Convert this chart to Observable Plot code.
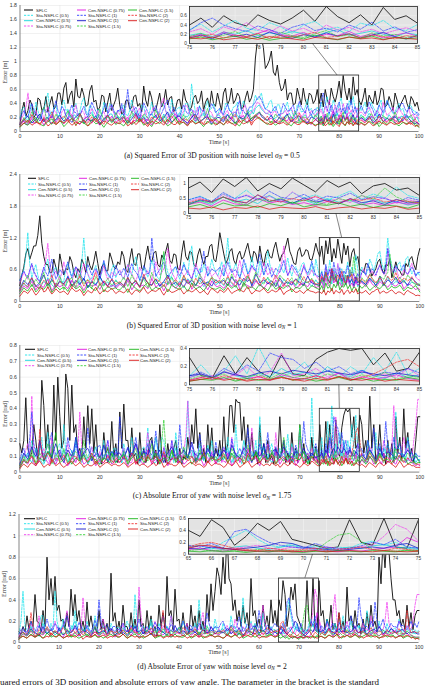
<!DOCTYPE html>
<html><head><meta charset="utf-8">
<script src="https://cdn.jsdelivr.net/npm/d3@7"></script>
<script src="https://cdn.jsdelivr.net/npm/@observablehq/plot@0.6"></script>
<style>
html,body{margin:0;padding:0;background:#fff}
#fig{position:relative;width:428px;height:685px;overflow:hidden;background:#fff}
#fig svg{position:absolute;overflow:visible}
</style></head><body><div id="fig"></div>
<script>
// ---------- labels ----------
const seriesNames = ["SFLC","Sta-NSFLC (0.5)","Cen-NSFLC (0.5)","Sta-NSFLC (0.75)","Cen-NSFLC (0.75)","Sta-NSFLC (1)","Cen-NSFLC (1)","Sta-NSFLC (1.5)","Cen-NSFLC (1.5)","Sta-NSFLC (2)","Cen-NSFLC (2)"];
const captionPrefix = ["(a) Squared Error of 3D position with noise level","(b) Squared Error of 3D position with noise level","(c) Absolute Error of yaw with noise level","(d) Absolute Error of yaw with noise level"];
const captionSigma = ["0.5","1","1.75","2"];
const yAxisLabels = ["Error [m]","Error [m]","Error [rad]","Error [rad]"];
const xAxisLabel = "Time [s]";
const figureCaption = "uared errors of 3D position and absolute errors of yaw angle. The parameter in the bracket is the standard";

// ---------- ticks ----------
const xTicksMain = [0,10,20,30,40,50,60,70,80,90,100];
const yTicksA = [0,0.2,0.4,0.6,0.8,1,1.2,1.4,1.6,1.8];
const yTicksB = [0,0.6,1.2,1.8,2.4];
const yTicksC = [0,0.1,0.2,0.3,0.4,0.5,0.6,0.7,0.8];
const yTicksD = [0,0.2,0.4,0.6,0.8,1,1.2];
const insetXTicksABC = [75,76,77,78,79,80,81,82,83,84,85];
const insetXTicksD = [65,66,67,68,69,70,71,72,73,74,75];
const insetYTicksA = [0,0.2,0.4,0.6];
const insetYTicksB = [0,0.5,1];
const insetYTicksC = [0,0.2,0.4];
const insetYTicksD = [0,0.2,0.4,0.6];
const zoomWindowA = [75,85,0,0.8];
const zoomWindowB = [75,85,0,1.2];
const zoomWindowC = [75,85,0,0.4];
const zoomWindowD = [65,75,0,0.6];
// connector: [time on inset bottom, time on zoom box top]
const connectorA = [80.4,79.6];
const connectorB = [81.4,80.6];
const connectorC = [81.5,80.0];
const connectorD = [70.4,71.6];

// sample times (s): 0, 0.5, ..., 100  (one row of 20 values = 10 s)
const sampleTimes = d3.range(0, 100.5, 0.5);

// ================= PANEL A : squared error, sigma 0.5 =================
const a_SFLC=[.10,.30,.42,.22,.30,.45,.38,.20,.25,.48,.45,.30,.33,.50,.28,.40,.50,.32,.36,.55,
.55,.38,.62,.70,.40,.52,.58,.35,.75,.50,.48,.62,.52,.36,.38,.58,.66,.42,.45,.30,
.35,.52,.50,.28,.42,.55,.30,.38,.46,.62,.38,.25,.28,.44,.45,.32,.34,.50,.52,.36,
.40,.28,.65,.45,.36,.58,.48,.30,.30,.42,.55,.35,.42,.60,.38,.48,.50,.28,.33,.45,
.46,.32,.60,.45,.40,.30,.35,.48,.52,.40,.44,.58,.30,.42,.48,.35,.58,.40,.36,.55,
.42,.30,.55,.62,.38,.45,.62,.40,.45,.55,.50,.32,.35,.48,.58,.42,.48,.60,1.05,1.30,
1.62,1.35,1.20,.90,.95,1.02,1.15,.85,.80,.95,.70,.58,.62,.75,.45,.55,.55,.38,.40,.62,
.50,.38,.62,.45,.38,.55,.52,.40,.45,.60,.40,.55,.35,.60,.45,.38,.62,.50,.42,.55,
.72,.48,.80,.58,.45,.62,.40,.78,.52,.60,.44,.38,.48,.62,.35,.52,.45,.40,.58,.38,
.45,.62,.60,.35,.38,.50,.42,.30,.55,.45,.33,.40,.46,.52,.40,.32,.50,.45,.36,.42,.30];
const a_Sta05=[.20,.32,.35,.18,.15,.40,.28,.22,.42,.30,.18,.25,.30,.45,.55,.28,.22,.35,.38,.20,
.25,.38,.45,.30,.32,.22,.20,.35,.40,.25,.28,.42,.48,.30,.24,.38,.35,.20,.18,.32,
.30,.22,.42,.35,.26,.40,.33,.28,.21,.30,.28,.35,.38,.25,.22,.30,.45,.32,.30,.24,
.25,.38,.36,.22,.20,.28,.42,.30,.31,.26,.27,.40,.38,.30,.24,.20,.46,.35,.29,.33,
.35,.25,.22,.40,.40,.28,.68,.45,.26,.30,.37,.22,.23,.35,.44,.30,.33,.40,.30,.22,
.32,.28,.25,.40,.40,.30,.28,.35,.36,.42,.22,.30,.44,.36,.30,.22,.26,.40,.52,.45,
.48,.55,.40,.32,.35,.42,.45,.30,.30,.38,.38,.25,.26,.35,.42,.30,.31,.22,.24,.38,
.37,.28,.29,.35,.46,.30,.33,.25,.27,.35,.30,.42,.25,.38,.50,.33,.28,.45,.36,.22,
.40,.48,.30,.35,.26,.44,.38,.50,.32,.28,.41,.30,.35,.42,.26,.30,.42,.35,.30,.22,
.38,.45,.24,.30,.45,.38,.31,.25,.28,.35,.40,.30,.33,.22,.25,.38,.37,.30,.29,.25,.22];
const a_Cen05=[.10,.15,.18,.12,.12,.20,.22,.16,.15,.22,.25,.18,.14,.20,.20,.26,.28,.18,.16,.22,
.24,.18,.19,.25,.30,.22,.17,.24,.22,.18,.26,.20,.15,.20,.21,.25,.27,.20,.18,.24,
.23,.17,.14,.20,.20,.25,.25,.18,.16,.22,.19,.25,.24,.16,.13,.20,.21,.26,.28,.22,
.17,.21,.22,.18,.15,.22,.26,.20,.20,.26,.18,.14,.25,.22,.14,.19,.23,.27,.19,.23,
.27,.20,.16,.22,.21,.26,.24,.18,.13,.20,.20,.24,.26,.20,.17,.22,.22,.19,.18,.24,
.23,.19,.16,.22,.25,.20,.19,.26,.28,.22,.21,.18,.15,.20,.24,.29,.30,.25,.33,.36,
.38,.32,.29,.26,.26,.24,.22,.18,.19,.22,.25,.20,.17,.22,.23,.26,.20,.18,.26,.22,
.15,.20,.22,.24,.18,.22,.24,.20,.21,.26,.18,.22,.15,.25,.20,.28,.17,.23,.19,.26,
.21,.16,.24,.30,.18,.22,.27,.20,.15,.23,.19,.24,.20,.17,.21,.26,.22,.15,.19,.22,
.19,.25,.22,.18,.18,.24,.20,.16,.23,.20,.16,.22,.21,.25,.19,.22,.20,.16,.18,.21,.14];
const a_Sta075=[.12,.20,.25,.35,.55,.28,.18,.24,.30,.20,.22,.30,.15,.28,.35,.22,.20,.30,.28,.18,
.16,.28,.32,.22,.24,.30,.19,.28,.38,.25,.21,.30,.27,.18,.14,.24,.33,.28,.22,.30,
.18,.24,.29,.20,.25,.36,.36,.26,.20,.30,.24,.33,.31,.20,.17,.24,.26,.36,.20,.28,
.34,.22,.23,.30,.15,.22,.28,.35,.21,.26,.30,.40,.48,.30,.19,.24,.25,.30,.22,.18,
.16,.24,.29,.38,.35,.26,.20,.30,.26,.35,.18,.25,.32,.28,.23,.30,.27,.20,.19,.25,
.25,.30,.21,.26,.30,.22,.18,.28,.27,.32,.24,.20,.33,.38,.20,.24,.28,.30,.36,.42,
.40,.35,.31,.26,.25,.30,.22,.28,.29,.22,.19,.26,.26,.30,.23,.30,.34,.25,.20,.26,
.27,.22,.24,.30,.18,.22,.30,.26,.22,.28,.25,.32,.20,.36,.28,.45,.30,.24,.38,.27,
.33,.22,.40,.29,.35,.25,.31,.21,.28,.34,.26,.28,.25,.22,.30,.35,.28,.19,.24,.30,
.26,.22,.42,.30,.23,.26,.29,.35,.20,.26,.33,.28,.24,.20,.27,.32,.21,.25,.18,.24,.18];
const a_Cen075=[.08,.12,.15,.10,.10,.16,.18,.12,.12,.18,.20,.14,.09,.14,.16,.20,.22,.16,.13,.18,
.19,.14,.11,.16,.17,.22,.24,.18,.14,.12,.10,.15,.18,.20,.21,.16,.12,.18,.16,.12,
.09,.15,.19,.20,.14,.18,.22,.16,.11,.16,.17,.21,.13,.18,.20,.15,.10,.16,.15,.22,
.23,.18,.12,.16,.18,.14,.09,.14,.16,.20,.21,.18,.14,.11,.11,.16,.19,.23,.25,.20,
.13,.16,.17,.14,.10,.16,.20,.24,.15,.18,.12,.15,.18,.22,.22,.16,.14,.18,.16,.12,
.12,.16,.19,.22,.15,.18,.21,.16,.10,.14,.17,.20,.23,.16,.13,.18,.18,.22,.20,.24,
.26,.24,.22,.18,.16,.18,.19,.16,.14,.12,.11,.15,.18,.16,.15,.20,.21,.16,.12,.15,
.17,.21,.20,.16,.14,.12,.10,.14,.16,.20,.15,.20,.12,.25,.18,.14,.22,.30,.19,.16,
.24,.13,.20,.17,.26,.15,.21,.12,.18,.23,.16,.19,.15,.13,.18,.17,.22,.20,.16,.11,
.16,.20,.20,.16,.14,.18,.18,.22,.12,.16,.21,.18,.15,.20,.17,.14,.13,.16,.15,.12,.10];
const a_Sta1=[.18,.25,.30,.22,.22,.30,.40,.30,.26,.20,.15,.25,.35,.28,.28,.20,.20,.32,.44,.30,
.25,.36,.32,.22,.19,.30,.38,.28,.27,.22,.23,.30,.36,.26,.21,.32,.42,.35,.29,.24,
.17,.25,.33,.40,.26,.30,.39,.30,.24,.30,.30,.40,.22,.35,.60,.35,.27,.30,.35,.28,
.19,.30,.41,.35,.28,.24,.24,.30,.37,.28,.20,.26,.33,.40,.45,.30,.26,.35,.30,.22,
.22,.30,.38,.30,.25,.28,.32,.26,.18,.25,.36,.30,.29,.24,.23,.32,.40,.35,.27,.30,
.33,.26,.24,.32,.39,.30,.28,.22,.21,.35,.44,.30,.30,.25,.26,.35,.35,.38,.42,.48,
.50,.45,.38,.32,.31,.28,.27,.32,.36,.28,.22,.30,.40,.35,.29,.30,.34,.38,.25,.30,
.43,.35,.30,.26,.37,.28,.23,.30,.32,.30,.28,.45,.55,.40,.32,.26,.38,.30,.22,.35,
.42,.28,.33,.25,.40,.31,.46,.27,.36,.24,.30,.37,.30,.25,.32,.42,.36,.30,.22,.30,
.38,.32,.27,.35,.44,.36,.31,.28,.26,.30,.35,.40,.40,.32,.28,.35,.33,.26,.24,.28,.24];
const a_Cen1=[.10,.14,.16,.20,.22,.16,.12,.15,.18,.22,.25,.18,.14,.17,.20,.14,.11,.15,.17,.20,
.23,.18,.15,.17,.19,.16,.13,.18,.21,.24,.26,.20,.12,.15,.18,.16,.15,.20,.22,.18,
.10,.14,.17,.20,.24,.18,.14,.16,.19,.20,.16,.18,.21,.16,.12,.15,.18,.22,.26,.20,
.14,.17,.20,.16,.11,.14,.17,.20,.23,.18,.15,.17,.19,.24,.28,.20,.13,.16,.18,.22,
.22,.18,.16,.14,.12,.16,.20,.23,.25,.18,.14,.16,.18,.20,.21,.16,.11,.14,.17,.20,
.20,.16,.14,.19,.24,.20,.17,.14,.12,.16,.21,.19,.18,.22,.26,.20,.15,.18,.22,.25,
.28,.22,.19,.17,.16,.20,.23,.18,.13,.16,.20,.18,.17,.22,.25,.18,.14,.17,.19,.22,
.22,.18,.16,.14,.12,.16,.21,.19,.18,.15,.12,.18,.10,.22,.15,.20,.13,.25,.17,.11,
.19,.14,.23,.16,.21,.12,.18,.24,.15,.10,.17,.20,.18,.15,.18,.22,.17,.12,.15,.18,
.25,.20,.14,.16,.19,.17,.16,.20,.21,.18,.13,.15,.17,.20,.23,.18,.15,.13,.11,.13,.11];
const a_Sta15=[.08,.14,.20,.15,.14,.22,.28,.18,.12,.16,.22,.30,.35,.22,.16,.12,.10,.18,.25,.20,
.18,.14,.13,.20,.30,.24,.21,.16,.15,.20,.26,.18,.11,.14,.19,.22,.24,.20,.14,.20,
.32,.24,.17,.20,.22,.16,.12,.18,.27,.22,.16,.20,.23,.16,.10,.18,.29,.22,.18,.14,
.14,.18,.25,.22,.20,.16,.12,.20,.31,.25,.17,.20,.22,.18,.13,.18,.26,.22,.19,.14,
.11,.18,.24,.20,.16,.20,.28,.24,.21,.16,.14,.16,.18,.24,.33,.22,.15,.18,.20,.16,
.13,.18,.22,.20,.17,.22,.26,.20,.11,.15,.20,.18,.15,.22,.30,.24,.18,.21,.24,.26,
.28,.24,.21,.18,.16,.14,.12,.18,.25,.22,.19,.16,.14,.18,.23,.20,.17,.22,.29,.22,
.13,.16,.21,.20,.18,.14,.11,.18,.24,.20,.15,.22,.12,.18,.26,.14,.20,.10,.24,.17,
.13,.21,.28,.15,.19,.12,.23,.16,.20,.13,.18,.20,.22,.16,.14,.20,.26,.22,.17,.14,
.11,.16,.23,.20,.19,.16,.15,.20,.28,.20,.13,.16,.20,.18,.16,.20,.24,.18,.12,.10,.09];
const a_Cen15=[.06,.09,.12,.10,.09,.12,.15,.18,.20,.14,.11,.09,.08,.12,.14,.16,.18,.14,.10,.12,
.16,.12,.07,.10,.13,.16,.19,.14,.09,.12,.15,.13,.12,.10,.08,.12,.17,.14,.11,.12,
.14,.10,.06,.10,.13,.16,.18,.14,.10,.12,.12,.10,.08,.12,.16,.13,.10,.12,.14,.16,
.19,.14,.09,.11,.13,.10,.07,.12,.15,.13,.11,.14,.17,.12,.08,.10,.12,.16,.20,.14,
.10,.12,.14,.11,.09,.12,.16,.14,.11,.13,.13,.10,.07,.11,.15,.12,.10,.12,.12,.10,
.14,.12,.09,.13,.17,.14,.11,.12,.13,.10,.08,.12,.16,.14,.12,.15,.19,.20,.22,.20,
.18,.16,.14,.12,.10,.12,.15,.12,.09,.11,.13,.14,.17,.14,.11,.10,.08,.12,.14,.13,
.12,.14,.16,.14,.10,.12,.13,.11,.09,.10,.10,.14,.08,.12,.16,.09,.13,.07,.11,.15,
.10,.18,.12,.08,.14,.11,.16,.09,.13,.10,.12,.13,.11,.09,.12,.15,.13,.11,.09,.12,
.07,.10,.14,.12,.10,.13,.17,.14,.12,.10,.08,.11,.13,.12,.11,.13,.15,.12,.09,.08,.06];
const a_Sta2=[.10,.14,.18,.14,.12,.18,.24,.19,.15,.12,.09,.14,.20,.17,.14,.18,.28,.20,.11,.14,
.17,.20,.22,.18,.13,.16,.19,.14,.08,.15,.25,.20,.16,.14,.12,.16,.21,.18,.14,.16,
.18,.14,.10,.16,.23,.19,.15,.17,.19,.18,.13,.16,.20,.17,.16,.12,.11,.18,.24,.18,
.14,.16,.18,.13,.09,.15,.21,.18,.15,.20,.26,.18,.12,.15,.17,.20,.22,.18,.14,.12,
.10,.15,.19,.17,.16,.14,.13,.18,.23,.20,.18,.14,.11,.16,.20,.18,.15,.16,.17,.15,
.14,.18,.21,.16,.11,.14,.18,.22,.25,.18,.13,.15,.16,.18,.20,.16,.12,.18,.24,.22,
.19,.17,.15,.18,.22,.16,.10,.14,.17,.15,.14,.18,.21,.16,.12,.15,.18,.17,.16,.20,
.26,.18,.13,.16,.19,.15,.11,.14,.17,.15,.13,.16,.20,.12,.18,.15,.22,.11,.17,.14,
.19,.24,.13,.16,.21,.12,.18,.15,.10,.17,.14,.16,.14,.12,.16,.20,.18,.14,.11,.16,
.22,.18,.15,.14,.13,.16,.19,.17,.16,.14,.12,.16,.21,.18,.14,.12,.10,.14,.18,.14,.10];
const a_Cen2=[.07,.10,.12,.14,.16,.12,.09,.11,.14,.12,.11,.15,.18,.12,.08,.10,.13,.12,.10,.12,
.15,.14,.12,.14,.17,.12,.09,.11,.14,.12,.11,.14,.16,.12,.08,.10,.13,.16,.19,.14,
.10,.12,.15,.14,.12,.10,.09,.12,.14,.12,.11,.14,.16,.12,.08,.10,.13,.14,.10,.12,
.18,.14,.12,.10,.07,.11,.15,.13,.11,.12,.14,.12,.09,.13,.17,.14,.12,.10,.10,.14,
.15,.13,.13,.10,.08,.12,.16,.13,.11,.12,.14,.12,.10,.11,.12,.15,.18,.13,.09,.11,
.13,.12,.10,.12,.15,.13,.12,.10,.08,.12,.16,.13,.11,.12,.14,.16,.09,.14,.17,.19,
.20,.17,.15,.12,.12,.10,.10,.12,.14,.12,.11,.12,.13,.11,.09,.12,.16,.13,.12,.10,
.10,.12,.15,.12,.11,.12,.13,.10,.08,.10,.12,.10,.14,.08,.11,.13,.09,.15,.12,.10,
.07,.13,.11,.09,.14,.10,.12,.08,.13,.11,.09,.12,.10,.09,.12,.14,.11,.08,.10,.13,
.15,.12,.12,.10,.09,.12,.13,.11,.10,.12,.11,.14,.14,.11,.10,.12,.12,.10,.07,.09,.07];

// ================= PANEL B : squared error, sigma 1 =================
const b_SFLC=[.30,.50,.65,.90,1.00,.80,.92,1.05,1.05,1.25,1.62,1.10,.85,.70,.70,.55,.55,.80,.65,.50,
.90,.70,.50,.62,.60,.85,.75,.55,.45,.62,.55,.80,.70,.55,.85,.68,.60,.75,.95,.72,
.50,.66,.72,.58,.58,.92,.80,.65,.62,.75,.70,.95,.85,.60,.55,.80,1.00,.72,.68,.90,
.90,.62,.60,.85,1.05,.80,.75,.92,.95,.70,.65,.88,.80,.95,1.10,.78,.72,.90,.88,.62,
.60,.92,1.15,.85,.78,.95,.92,.70,.66,.88,1.00,.82,.70,.85,.85,1.05,1.08,.80,.75,.98,
1.30,1.10,.90,.72,.80,.95,1.00,.78,.70,.88,.95,.80,.85,.98,1.10,.90,.75,.95,.90,.72,
1.05,.82,.68,.90,.98,.85,.82,1.00,1.12,.92,.76,.88,.92,1.05,1.20,.95,.85,.72,.70,.95,
1.02,.85,.88,.98,.96,.80,.78,.92,1.10,.95,.85,1.05,.70,1.15,.90,1.20,.75,1.00,.82,1.18,
.95,.72,1.10,.88,1.05,.66,.92,1.00,.78,.85,.60,.58,.55,.72,.70,.62,.48,.55,.62,.75,
.80,.62,.52,.70,.68,.80,.45,.58,.75,.62,.58,.50,.50,.72,.66,.80,.85,.70,.60,.85,1.00];
const b_Sta05=[.40,.52,.60,.85,1.30,.70,.45,.58,.70,.50,.35,.48,.55,.68,.80,.55,.42,.60,.65,.48,
.50,.38,.38,.62,.72,.55,.48,.62,.60,.42,.36,.75,1.20,.70,.52,.40,.44,.58,.68,.52,
.40,.55,.75,.60,.50,.45,.62,.70,.45,.55,.58,.48,.42,.60,.70,.55,.50,.72,.85,.62,
.38,.50,.64,.55,.46,.60,.78,.65,.52,.45,.40,.62,.90,.70,.55,.45,.48,.60,.66,.50,
.42,.58,.74,.62,.50,.85,1.05,.70,.45,.52,.62,.55,.70,.60,.48,.62,.80,.65,.55,.48,
.62,.75,.48,.80,1.20,.70,.55,.62,.72,.58,.45,.56,.68,.72,.52,.60,.85,.66,.60,.50,
.76,.62,.50,.72,.95,.70,.58,.52,.46,.58,.70,.62,.54,.68,.82,.60,.48,.62,.66,.55,
.58,.70,.74,.60,.50,.55,.72,.48,.80,.62,.45,.58,.40,.65,.50,.78,.48,.60,.38,.70,
.52,.62,.45,.58,.75,.48,.65,.52,.88,.60,.50,.65,.55,.50,.60,.80,.70,.58,.72,.90,
.95,.72,.60,.78,1.20,.85,.68,.62,.55,.70,.75,.58,.62,.80,.85,.65,.52,.60,.48,.55,.48];
const b_Cen05=[.20,.28,.35,.30,.28,.36,.42,.35,.30,.26,.25,.32,.38,.34,.45,.38,.32,.28,.27,.34,
.40,.36,.34,.30,.48,.40,.29,.33,.36,.40,.31,.38,.44,.35,.26,.32,.39,.36,.33,.38,
.47,.40,.30,.34,.37,.32,.28,.34,.41,.36,.34,.30,.27,.36,.45,.38,.32,.35,.38,.32,
.29,.38,.50,.40,.35,.32,.31,.36,.42,.35,.28,.33,.37,.34,.33,.42,.46,.36,.30,.34,
.39,.32,.26,.35,.43,.38,.35,.31,.31,.36,.40,.34,.28,.32,.36,.40,.44,.36,.32,.34,
.38,.34,.30,.38,.45,.38,.34,.30,.27,.34,.41,.38,.36,.40,.48,.40,.32,.36,.40,.35,
.29,.33,.37,.40,.44,.36,.31,.34,.35,.30,.28,.35,.42,.38,.33,.36,.39,.34,.30,.35,
.46,.38,.34,.36,.37,.32,.29,.34,.41,.35,.35,.42,.30,.55,.38,.48,.33,.60,.40,.36,
.45,.32,.50,.38,.43,.30,.47,.35,.40,.28,.36,.39,.34,.32,.40,.44,.38,.36,.30,.35,
.42,.38,.35,.40,.47,.38,.31,.34,.38,.36,.34,.38,.41,.35,.29,.33,.37,.35,.33,.30,.33];
const b_Sta075=[.35,.45,.55,.48,.42,.58,.70,.55,.48,.40,.38,.50,.62,.80,1.10,.70,.45,.52,.58,.48,
.40,.55,.75,.60,.50,.42,.36,.50,.65,.55,.44,.58,.72,.60,.52,.45,.39,.48,.60,.52,
.46,.55,.68,.52,.41,.48,.55,.50,.49,.55,.60,.48,.43,.55,.70,.60,.52,.45,.38,.50,
.65,.55,.47,.52,.58,.50,.42,.55,.75,.62,.50,.55,.62,.70,1.00,.72,.55,.48,.40,.52,
.68,.55,.48,.52,.60,.50,.44,.58,.72,.60,.51,.45,.39,.52,.66,.55,.47,.52,.55,.48,
.42,.55,.70,.58,.48,.55,.62,.50,.45,.62,.78,.60,.52,.45,.40,.55,.68,.60,.56,.50,
.46,.58,.74,.60,.50,.55,.64,.52,.43,.50,.58,.75,1.05,.70,.49,.58,.66,.58,.52,.48,
.44,.55,.70,.55,.47,.52,.60,.52,.50,.44,.40,.52,.36,.64,.44,.62,.48,.58,.38,.72,
.46,.55,.40,.50,.36,.60,.42,.53,.34,.46,.38,.55,.62,.50,.45,.52,.58,.50,.48,.62,
.70,.58,.52,.48,1.00,.70,.55,.60,.65,.52,.42,.50,.60,.55,.50,.62,.72,.58,.46,.42,.40];
const b_Cen075=[.18,.24,.30,.26,.25,.32,.38,.30,.22,.28,.33,.28,.27,.35,.42,.32,.20,.26,.35,.30,
.28,.30,.31,.28,.24,.32,.40,.34,.26,.30,.34,.28,.21,.28,.37,.34,.29,.30,.32,.28,
.23,.30,.39,.34,.27,.28,.30,.30,.25,.28,.33,.30,.26,.32,.40,.32,.22,.28,.35,.32,
.29,.30,.31,.28,.24,.32,.43,.36,.27,.30,.34,.28,.20,.28,.38,.34,.30,.28,.25,.30,
.36,.32,.28,.34,.41,.34,.23,.28,.32,.30,.27,.30,.35,.28,.22,.30,.39,.34,.29,.28,
.31,.28,.25,.30,.37,.32,.28,.32,.42,.35,.23,.28,.34,.32,.30,.28,.26,.32,.39,.34,
.32,.30,.24,.30,.36,.32,.29,.32,.41,.34,.22,.28,.33,.30,.27,.32,.38,.32,.25,.28,
.31,.33,.35,.30,.28,.34,.40,.34,.26,.28,.30,.38,.25,.45,.32,.28,.50,.35,.42,.30,
.36,.27,.40,.33,.48,.29,.35,.26,.38,.31,.34,.36,.32,.28,.34,.41,.34,.30,.26,.32,
.38,.34,.32,.30,.27,.32,.35,.30,.29,.32,.40,.34,.24,.28,.33,.32,.30,.26,.22,.26,.22];
const b_Sta1=[.40,.50,.58,.50,.45,.60,.72,.58,.50,.42,.38,.52,.65,.55,.48,.62,.80,.60,.42,.50,
.60,.55,.52,.62,.75,.60,.44,.55,.66,.60,.55,.46,.40,.55,.70,.60,.50,.58,.62,.55,
.46,.60,.78,.62,.53,.48,.41,.55,.68,.58,.50,.55,.63,.55,.45,.60,.72,.60,.56,.50,
.40,.52,.68,.60,.52,.55,1.20,.80,.47,.55,.60,.70,.74,.55,.43,.52,.58,.62,.66,.55,
.49,.58,.70,.60,.55,.48,.42,.55,.64,.58,.51,.70,.95,.66,.48,.55,.62,.58,.57,.60,
.65,.55,.48,.62,.75,.62,.55,.58,.60,.52,.44,.60,.80,.65,.52,.58,.68,.62,.58,.75,
.90,.68,.50,.60,.72,.58,.46,.55,.63,.58,.55,.65,.78,.60,.49,.58,.70,.65,.60,.52,
.45,.55,.66,.58,.53,.62,.76,.60,.50,.48,.46,.56,.40,.70,.50,.60,.44,.74,.54,.48,
.64,.42,.58,.52,.68,.46,.56,.50,.38,.53,.44,.55,.58,.50,.72,.55,.62,.58,.50,.60,
.68,.60,.52,.60,1.00,.72,.60,.55,.68,.60,.58,.62,.70,.55,.52,.58,.65,.60,.48,.55,.55];
const b_Cen1=[.25,.32,.40,.36,.32,.38,.45,.36,.28,.32,.36,.42,.50,.40,.30,.35,.42,.36,.27,.32,
.38,.35,.34,.40,.47,.38,.29,.34,.40,.36,.33,.38,.44,.36,.26,.32,.37,.34,.31,.38,
.48,.40,.35,.33,.30,.36,.41,.35,.28,.32,.36,.34,.30,.38,.44,.38,.33,.36,.39,.33,
.27,.36,.46,.40,.35,.32,.31,.38,.42,.35,.29,.34,.38,.44,.50,.40,.32,.34,.36,.32,
.28,.36,.43,.38,.34,.36,.40,.36,.30,.38,.45,.40,.33,.35,.37,.33,.29,.36,.41,.38,
.34,.38,.40,.35,.30,.38,.47,.40,.36,.34,.31,.38,.44,.40,.38,.42,.29,.40,.52,.45,
.35,.38,.41,.38,.33,.36,.39,.34,.28,.36,.45,.38,.34,.35,.37,.34,.31,.38,.43,.38,
.36,.33,.30,.40,.48,.40,.35,.34,.32,.32,.30,.45,.38,.55,.42,.35,.62,.40,.48,.33,
.52,.38,.45,.32,.50,.36,.42,.30,.47,.35,.40,.38,.35,.32,.38,.44,.40,.36,.30,.38,
.48,.40,.30,.36,.41,.38,.35,.40,.46,.38,.33,.36,.39,.34,.31,.38,.45,.40,.37,.32,.30];
const b_Sta15=[.20,.30,.35,.42,.50,.38,.28,.35,.42,.36,.32,.45,.55,.40,.25,.32,.40,.35,.30,.40,
.48,.35,.22,.30,.38,.42,.45,.35,.27,.40,.52,.42,.33,.38,.41,.35,.24,.36,.47,.40,
.36,.32,.29,.38,.44,.36,.31,.35,.39,.35,.34,.40,.46,.38,.28,.38,.50,.42,.37,.34,
.30,.36,.42,.35,.26,.40,.55,.45,.33,.36,.40,.60,.95,.55,.31,.38,.45,.40,.38,.32,
.27,.38,.49,.40,.35,.38,.43,.36,.29,.40,.52,.42,.36,.34,.32,.40,.47,.42,.40,.36,
.37,.40,.44,.36,.30,.42,.52,.42,.36,.38,.41,.36,.28,.38,.48,.40,.35,.45,.56,.45,
.40,.36,.33,.40,.46,.40,.38,.34,.30,.40,.50,.45,.42,.38,.34,.40,.45,.36,.31,.42,
.53,.45,.39,.36,.36,.40,.44,.38,.32,.30,.30,.42,.35,.55,.38,.28,.48,.40,.52,.33,
.45,.38,.30,.50,.42,.60,.48,.85,.55,.40,.35,.45,.40,.38,.45,.52,.45,.40,.36,.35,
.48,.45,.42,.50,.55,.90,.60,.45,.40,.42,.46,.40,.36,.42,.50,.45,.38,.34,.32,.34,.32];
const b_Cen15=[.15,.20,.26,.22,.20,.26,.32,.26,.18,.22,.28,.25,.23,.28,.35,.28,.17,.22,.30,.26,
.22,.25,.27,.24,.19,.26,.33,.28,.24,.26,.29,.24,.16,.22,.31,.28,.25,.22,.21,.26,
.34,.28,.18,.24,.28,.26,.23,.25,.26,.22,.22,.26,.30,.24,.17,.24,.34,.28,.25,.22,
.20,.24,.29,.32,.36,.28,.21,.24,.27,.25,.24,.28,.31,.26,.18,.24,.33,.28,.26,.24,
.22,.26,.30,.24,.19,.26,.35,.28,.24,.26,.28,.24,.20,.26,.32,.28,.25,.24,.23,.25,
.27,.24,.21,.26,.33,.28,.25,.28,.30,.24,.19,.26,.36,.30,.24,.26,.28,.25,.22,.28,
.32,.28,.26,.24,.20,.26,.34,.28,.23,.26,.29,.26,.25,.28,.31,.28,.18,.22,.27,.26,
.24,.28,.33,.28,.21,.26,.30,.28,.26,.24,.22,.30,.18,.35,.25,.28,.20,.33,.26,.38,
.22,.30,.27,.35,.24,.31,.20,.28,.25,.18,.30,.25,.28,.32,.26,.21,.24,.28,.30,.26,
.24,.28,.35,.28,.22,.26,.29,.26,.26,.28,.31,.26,.20,.24,.27,.25,.24,.28,.30,.24,.18];
const b_Sta2=[.22,.30,.35,.30,.28,.38,.45,.36,.30,.26,.25,.34,.40,.36,.33,.42,.50,.38,.27,.34,
.38,.35,.31,.38,.44,.36,.26,.32,.36,.42,.48,.38,.29,.35,.41,.38,.34,.45,.55,.42,
.30,.35,.39,.34,.27,.35,.43,.38,.32,.36,.37,.33,.29,.38,.46,.38,.33,.36,.40,.32,
.26,.40,.52,.42,.35,.32,.30,.38,.43,.40,.38,.34,.28,.38,.47,.40,.34,.38,.41,.36,
.31,.40,.49,.42,.36,.32,.27,.36,.44,.38,.33,.36,.39,.34,.30,.38,.45,.40,.35,.38,
.40,.36,.32,.40,.48,.40,.36,.32,.29,.38,.45,.42,.38,.45,.51,.42,.34,.40,.42,.36,
.30,.38,.46,.40,.37,.34,.33,.42,.50,.42,.39,.36,.28,.38,.44,.38,.35,.38,.41,.36,
.31,.40,.47,.40,.36,.38,.42,.36,.33,.34,.35,.48,.40,.55,.42,.36,.62,.45,.38,.50,
.42,.58,.40,.35,.48,.44,.52,.38,.45,.40,.36,.42,.38,.35,.42,.50,.44,.38,.36,.40,
.45,.40,.33,.40,.48,.42,.40,.45,.55,.45,.36,.40,.44,.42,.39,.42,.47,.40,.34,.32,.30];
const b_Cen2=[.10,.15,.20,.18,.15,.20,.25,.18,.12,.16,.22,.26,.18,.20,.28,.20,.14,.18,.24,.20,
.17,.18,.20,.16,.13,.20,.26,.22,.19,.20,.23,.18,.11,.16,.21,.18,.16,.22,.27,.20,
.14,.18,.22,.20,.18,.22,.25,.20,.15,.18,.20,.18,.16,.20,.24,.18,.13,.18,.22,.20,
.17,.22,.27,.20,.15,.18,.21,.20,.19,.22,.25,.18,.12,.18,.23,.20,.17,.18,.20,.22,
.26,.20,.14,.18,.22,.20,.18,.20,.24,.20,.16,.18,.21,.16,.13,.20,.25,.22,.19,.16,
.22,.20,.17,.20,.26,.20,.15,.18,.20,.22,.23,.20,.18,.24,.28,.20,.14,.18,.21,.20,
.19,.22,.25,.20,.16,.18,.22,.20,.18,.20,.27,.20,.13,.18,.20,.22,.24,.20,.17,.18,
.21,.18,.15,.20,.23,.20,.19,.18,.16,.18,.18,.15,.22,.12,.20,.17,.25,.14,.21,.18,
.16,.23,.13,.19,.22,.15,.20,.17,.24,.14,.18,.16,.18,.21,.16,.13,.18,.19,.22,.24,
.15,.18,.20,.16,.17,.20,.22,.18,.14,.18,.18,.16,.12,.18,.21,.18,.16,.14,.11,.12,.11];

// ================= PANEL C : absolute yaw error, sigma 1.75 =================
const c_SFLC=[.18,.12,.20,.47,.15,.10,.12,.30,.20,.08,.15,.58,.42,.15,.30,.12,.08,.55,.20,.60,
.35,.15,.20,.62,.53,.20,.55,.25,.30,.12,.15,.08,.35,.15,.42,.18,.40,.12,.30,.10,
.10,.05,.25,.12,.15,.08,.32,.10,.18,.06,.38,.15,.43,.20,.20,.08,.28,.10,.12,.05,
.25,.08,.15,.06,.10,.20,.22,.08,.14,.05,.30,.10,.12,.06,.18,.08,.08,.15,.20,.06,
.15,.05,.10,.08,.22,.12,.30,.18,.40,.15,.25,.08,.15,.06,.30,.12,.28,.08,.15,.10,
.20,.08,.35,.12,.18,.42,.42,.25,.46,.44,.44,.20,.35,.15,.30,.10,.25,.08,.12,.05,
.30,.10,.18,.06,.20,.08,.10,.05,.15,.08,.35,.12,.20,.06,.12,.05,.25,.10,.15,.06,
.30,.10,.18,.06,.10,.05,.22,.08,.16,.06,.30,.10,.08,.32,.12,.30,.15,.08,.33,.12,
.10,.28,.36,.40,.38,.40,.22,.35,.15,.18,.36,.30,.12,.20,.08,.48,.15,.30,.08,.12,
.30,.10,.12,.05,.20,.08,.18,.06,.35,.12,.22,.08,.40,.15,.25,.10,.15,.06,.20,.35,.35];
const c_Sta05=[.05,.10,.12,.06,.08,.14,.20,.10,.10,.06,.15,.22,.06,.12,.25,.10,.12,.05,.08,.16,
.18,.10,.30,.12,.10,.05,.14,.08,.22,.12,.07,.15,.12,.08,.09,.14,.16,.10,.11,.06,
.05,.12,.20,.10,.13,.08,.08,.15,.15,.08,.10,.06,.18,.10,.07,.14,.22,.12,.12,.08,
.09,.14,.16,.10,.28,.12,.11,.06,.06,.10,.14,.22,.20,.10,.08,.12,.12,.06,.25,.12,
.10,.06,.15,.10,.45,.15,.09,.12,.13,.08,.18,.10,.07,.12,.12,.08,.20,.10,.10,.06,
.14,.08,.08,.12,.22,.10,.12,.06,.30,.12,.10,.05,.16,.08,.07,.12,.13,.10,.20,.08,
.35,.12,.11,.08,.09,.14,.18,.10,.12,.06,.15,.10,.08,.12,.24,.10,.10,.06,.14,.08,
.28,.10,.09,.12,.12,.08,.47,.12,.15,.08,.10,.22,.08,.15,.32,.12,.42,.18,.09,.14,
.25,.10,.16,.08,.20,.12,.30,.15,.36,.11,.18,.12,.08,.06,.20,.14,.10,.08,.25,.10,
.16,.10,.09,.15,.18,.12,.12,.06,.38,.15,.15,.10,.10,.06,.22,.12,.08,.05,.12,.08,.08];
const c_Cen05=[.04,.06,.08,.10,.12,.08,.06,.10,.15,.10,.09,.06,.05,.08,.11,.14,.18,.12,.07,.09,
.10,.08,.14,.10,.06,.08,.09,.12,.20,.14,.08,.06,.12,.10,.05,.07,.10,.12,.16,.10,
.07,.09,.11,.08,.08,.12,.13,.10,.06,.08,.09,.06,.14,.10,.07,.09,.11,.14,.18,.12,
.06,.08,.10,.12,.13,.10,.08,.12,.22,.14,.09,.06,.12,.10,.05,.08,.10,.12,.15,.10,
.07,.09,.11,.10,.09,.12,.14,.10,.06,.08,.12,.10,.08,.12,.17,.12,.10,.08,.07,.09,
.11,.08,.08,.12,.15,.10,.06,.09,.12,.10,.09,.12,.20,.14,.07,.08,.10,.12,.13,.10,
.08,.10,.16,.12,.11,.08,.06,.09,.14,.12,.09,.10,.12,.10,.07,.10,.18,.12,.10,.08,
.08,.10,.13,.09,.06,.08,.11,.10,.09,.08,.08,.12,.06,.15,.10,.07,.13,.09,.18,.11,
.14,.08,.20,.12,.09,.16,.10,.07,.13,.08,.11,.10,.08,.07,.10,.14,.12,.09,.06,.10,
.12,.10,.15,.12,.10,.08,.09,.11,.13,.10,.09,.12,.11,.08,.07,.10,.12,.09,.06,.08,.06];
const c_Sta075=[.06,.08,.10,.14,.18,.10,.48,.12,.12,.06,.08,.12,.15,.10,.10,.06,.22,.12,.07,.10,
.14,.10,.09,.12,.18,.10,.11,.06,.08,.12,.38,.15,.12,.08,.06,.10,.16,.10,.10,.06,
.13,.08,.08,.12,.20,.10,.09,.06,.12,.08,.08,.12,.15,.10,.10,.06,.06,.12,.18,.10,
.12,.08,.09,.14,.25,.12,.07,.10,.13,.08,.10,.06,.16,.10,.08,.12,.20,.10,.11,.06,
.07,.10,.14,.22,.45,.18,.10,.06,.12,.08,.08,.12,.17,.10,.09,.06,.13,.10,.06,.08,
.10,.06,.15,.12,.08,.10,.22,.14,.12,.08,.07,.10,.16,.12,.10,.06,.28,.14,.09,.08,
.13,.10,.08,.12,.18,.12,.11,.08,.25,.12,.07,.10,.14,.10,.10,.06,.16,.12,.08,.06,
.20,.12,.12,.08,.09,.12,.15,.10,.07,.10,.08,.12,.06,.15,.10,.20,.08,.14,.35,.10,
.12,.18,.09,.13,.07,.15,.10,.12,.08,.18,.10,.12,.10,.08,.12,.16,.12,.10,.06,.14,
.09,.12,.20,.15,.12,.08,.15,.42,.18,.10,.10,.15,.22,.12,.15,.10,.08,.20,.30,.46,.46];
const c_Cen075=[.03,.05,.07,.06,.05,.08,.10,.06,.04,.06,.08,.10,.12,.08,.06,.05,.09,.07,.05,.08,
.11,.08,.07,.05,.04,.06,.09,.08,.06,.10,.13,.08,.05,.06,.08,.10,.10,.06,.04,.06,
.07,.06,.06,.08,.11,.08,.05,.06,.08,.07,.06,.08,.10,.06,.04,.07,.12,.09,.05,.08,
.08,.06,.05,.08,.14,.09,.05,.07,.08,.06,.06,.08,.11,.08,.04,.06,.09,.08,.07,.06,
.13,.08,.05,.06,.08,.10,.10,.08,.06,.08,.09,.07,.04,.06,.07,.09,.11,.08,.05,.08,
.09,.07,.07,.06,.12,.08,.04,.06,.08,.10,.06,.08,.10,.08,.15,.10,.07,.08,.09,.06,
.04,.08,.11,.08,.06,.08,.08,.07,.13,.09,.05,.07,.09,.07,.07,.08,.10,.08,.04,.06,
.08,.10,.06,.09,.12,.08,.09,.07,.10,.06,.05,.08,.10,.06,.12,.07,.09,.05,.11,.08,
.06,.10,.07,.13,.05,.09,.06,.08,.11,.07,.05,.08,.06,.07,.06,.10,.08,.05,.06,.09,
.07,.05,.12,.08,.06,.07,.08,.06,.05,.08,.10,.07,.07,.06,.09,.07,.06,.05,.04,.05,.04];
const c_Sta1=[.08,.12,.15,.10,.10,.22,.38,.18,.12,.10,.20,.12,.09,.14,.16,.20,.25,.15,.11,.12,
.14,.10,.08,.12,.22,.15,.13,.10,.18,.12,.10,.15,.15,.12,.28,.15,.09,.10,.12,.16,
.17,.12,.08,.14,.20,.12,.11,.08,.14,.10,.35,.18,.10,.12,.16,.12,.12,.15,.22,.14,
.09,.12,.14,.10,.18,.12,.11,.14,.26,.15,.08,.10,.15,.12,.12,.10,.20,.14,.10,.12,
.30,.15,.13,.10,.09,.14,.17,.12,.11,.10,.24,.14,.08,.10,.14,.12,.12,.10,.19,.12,
.10,.14,.16,.12,.13,.10,.21,.14,.09,.12,.15,.12,.12,.10,.28,.15,.10,.12,.14,.10,
.18,.12,.09,.14,.25,.14,.12,.10,.16,.12,.10,.14,.20,.12,.13,.10,.09,.12,.17,.12,
.11,.14,.32,.18,.14,.12,.10,.14,.18,.12,.10,.14,.08,.18,.12,.22,.15,.35,.30,.28,
.18,.25,.15,.20,.12,.16,.10,.14,.12,.18,.13,.15,.10,.12,.20,.14,.12,.28,.15,.14,
.18,.11,.14,.32,.16,.12,.12,.22,.14,.15,.18,.12,.10,.14,.20,.15,.12,.10,.12,.10,.10];
const c_Cen1=[.05,.08,.12,.10,.08,.12,.16,.12,.10,.14,.20,.14,.07,.10,.13,.12,.09,.14,.18,.14,
.11,.08,.06,.10,.14,.12,.10,.14,.22,.15,.08,.10,.12,.14,.15,.12,.07,.10,.11,.12,
.09,.12,.17,.12,.06,.10,.13,.12,.10,.12,.12,.10,.08,.12,.15,.12,.10,.14,.18,.14,
.07,.10,.13,.12,.11,.14,.20,.14,.09,.12,.14,.10,.06,.10,.12,.14,.16,.12,.08,.10,
.11,.12,.14,.12,.09,.14,.19,.14,.07,.10,.12,.12,.10,.12,.15,.12,.08,.10,.13,.12,
.10,.12,.14,.12,.08,.12,.17,.14,.11,.10,.09,.12,.15,.14,.12,.10,.06,.10,.13,.12,
.10,.12,.18,.12,.08,.10,.12,.14,.14,.12,.09,.12,.16,.14,.11,.10,.07,.10,.13,.12,
.10,.12,.15,.12,.08,.10,.12,.10,.09,.10,.10,.12,.08,.14,.11,.09,.13,.15,.12,.16,
.14,.12,.15,.13,.11,.14,.12,.10,.13,.11,.09,.11,.10,.08,.12,.14,.12,.10,.07,.10,
.15,.12,.09,.10,.13,.12,.11,.10,.08,.12,.12,.10,.10,.12,.14,.12,.07,.08,.10,.08,.07];
const c_Sta15=[.04,.07,.10,.08,.07,.10,.14,.10,.06,.08,.12,.10,.09,.14,.18,.12,.05,.08,.11,.10,
.08,.10,.15,.10,.06,.08,.10,.12,.13,.10,.07,.12,.20,.12,.09,.10,.12,.08,.05,.08,
.10,.08,.08,.12,.16,.10,.06,.08,.11,.10,.09,.10,.13,.10,.06,.08,.10,.12,.15,.10,
.08,.10,.12,.10,.07,.10,.18,.12,.10,.08,.06,.20,.33,.15,.09,.10,.13,.10,.07,.10,
.11,.12,.16,.10,.08,.10,.10,.08,.06,.10,.14,.10,.09,.10,.12,.10,.07,.08,.10,.08,
.08,.10,.12,.10,.06,.10,.15,.12,.09,.10,.11,.10,.07,.12,.17,.12,.10,.08,.13,.10,
.08,.10,.12,.10,.06,.08,.14,.10,.09,.10,.11,.14,.22,.12,.08,.10,.12,.10,.10,.08,
.30,.12,.07,.10,.11,.10,.09,.10,.13,.10,.06,.10,.08,.12,.05,.09,.11,.07,.13,.08,
.10,.06,.12,.09,.07,.11,.08,.14,.06,.10,.08,.10,.08,.07,.10,.13,.10,.09,.06,.10,
.11,.08,.06,.10,.12,.10,.08,.10,.15,.10,.10,.07,.07,.10,.12,.10,.09,.10,.11,.08,.06];
const c_Cen15=[.03,.05,.08,.06,.06,.09,.11,.08,.05,.07,.09,.08,.07,.10,.13,.10,.10,.18,.25,.12,
.06,.07,.08,.10,.12,.08,.05,.07,.09,.08,.07,.09,.11,.08,.06,.08,.10,.08,.08,.06,
.05,.07,.09,.08,.07,.06,.12,.08,.06,.08,.08,.10,.11,.08,.05,.07,.09,.10,.07,.08,
.13,.09,.06,.08,.10,.08,.08,.10,.12,.08,.05,.07,.09,.08,.07,.09,.14,.10,.06,.08,
.10,.08,.08,.10,.11,.08,.05,.07,.09,.08,.07,.09,.12,.08,.06,.08,.10,.08,.08,.07,
.07,.08,.10,.08,.06,.08,.12,.10,.08,.07,.09,.08,.05,.07,.11,.08,.07,.09,.13,.10,
.06,.08,.09,.10,.08,.09,.12,.10,.05,.08,.10,.08,.07,.09,.11,.10,.06,.08,.09,.08,
.08,.10,.13,.10,.05,.07,.10,.08,.07,.05,.04,.06,.05,.08,.04,.07,.05,.06,.09,.05,
.07,.04,.06,.08,.05,.07,.04,.06,.05,.08,.06,.08,.07,.05,.07,.10,.08,.07,.05,.08,
.12,.09,.07,.08,.08,.07,.06,.08,.10,.08,.07,.09,.09,.08,.05,.06,.06,.07,.05,.06,.06];
const c_Sta2=[.04,.06,.08,.07,.06,.08,.10,.08,.05,.07,.27,.12,.08,.10,.12,.10,.06,.08,.09,.08,
.07,.09,.11,.08,.05,.07,.08,.10,.10,.08,.06,.08,.09,.07,.07,.08,.12,.09,.05,.07,
.08,.07,.06,.08,.10,.08,.07,.06,.09,.08,.06,.08,.10,.08,.07,.09,.12,.10,.05,.07,
.09,.10,.08,.07,.11,.08,.06,.08,.10,.09,.07,.08,.13,.10,.05,.07,.08,.09,.09,.08,
.06,.08,.11,.09,.07,.08,.10,.08,.05,.07,.08,.10,.12,.09,.06,.08,.09,.08,.07,.08,
.08,.10,.11,.09,.06,.08,.10,.09,.07,.08,.09,.08,.05,.07,.12,.10,.08,.09,.10,.08,
.06,.08,.09,.07,.07,.09,.11,.09,.05,.07,.08,.09,.10,.08,.06,.08,.09,.08,.07,.08,
.12,.09,.05,.07,.08,.09,.10,.08,.06,.08,.05,.08,.06,.10,.07,.05,.09,.06,.08,.05,
.07,.10,.06,.09,.05,.08,.12,.18,.25,.28,.20,.10,.08,.07,.09,.12,.10,.08,.06,.07,
.10,.08,.07,.09,.09,.08,.05,.07,.08,.09,.11,.08,.06,.08,.09,.08,.07,.06,.05,.05,.05];
const c_Cen2=[.02,.04,.05,.04,.03,.05,.06,.05,.04,.06,.07,.05,.03,.04,.05,.04,.08,.06,.04,.05,
.06,.04,.03,.04,.05,.06,.07,.05,.04,.05,.06,.05,.03,.04,.05,.04,.04,.05,.07,.05,
.03,.04,.05,.06,.06,.05,.04,.05,.05,.04,.04,.05,.06,.05,.03,.04,.05,.06,.07,.05,
.04,.05,.05,.04,.03,.04,.05,.06,.04,.05,.08,.06,.03,.04,.06,.05,.05,.04,.04,.05,
.07,.05,.03,.04,.05,.06,.06,.05,.04,.05,.05,.04,.03,.04,.07,.05,.04,.05,.06,.05,
.05,.04,.03,.04,.06,.05,.04,.05,.07,.05,.03,.04,.05,.06,.07,.05,.03,.04,.05,.06,
.06,.05,.04,.05,.05,.04,.06,.05,.04,.05,.03,.04,.06,.05,.04,.05,.07,.05,.05,.04,
.03,.04,.06,.05,.04,.05,.07,.06,.05,.04,.04,.06,.08,.05,.07,.04,.06,.05,.08,.06,
.04,.07,.05,.09,.06,.05,.07,.04,.06,.05,.04,.05,.04,.03,.05,.06,.05,.04,.03,.05,
.06,.05,.04,.05,.07,.06,.05,.04,.03,.05,.07,.05,.03,.04,.05,.05,.04,.04,.03,.03,.03];

// ================= PANEL D : absolute yaw error, sigma 2 =================
const d_SFLC=[.10,.08,.15,.10,.25,.12,.20,.15,.45,.20,.18,.10,.30,.15,.80,.40,.60,.35,.62,.30,
.35,.20,.22,.12,.28,.15,.50,.25,.45,.20,.30,.12,.20,.10,.38,.15,.25,.12,.15,.08,
.30,.12,.22,.10,.18,.08,.65,.20,.28,.10,.20,.08,.35,.15,.15,.08,.28,.12,.22,.10,
.40,.15,.18,.08,.30,.12,.25,.10,.15,.06,.35,.15,.28,.12,.62,.25,.30,.12,.50,.20,
.22,.10,.28,.12,.18,.08,.35,.15,.25,.10,.30,.12,.20,.08,.45,.20,.55,.30,.48,.70,
.62,.45,.80,.55,1.05,.60,.55,.30,.40,.20,.30,.15,.35,.18,.28,.12,.60,.25,.30,.15,
.22,.10,.35,.15,.25,.12,.40,.18,.30,.15,.40,.30,.58,.45,.15,.30,.52,.40,.55,.25,
.20,.15,.10,.12,.58,.20,.15,.60,.12,.10,.58,.25,.30,.12,.22,.15,.35,.12,.18,.10,
.28,.12,.20,.10,.52,.20,.25,.12,.30,.15,.18,.08,.22,.10,.28,.12,.35,.15,.20,.10,
.80,.55,.95,.70,1.02,.85,.60,.40,.40,.25,.30,.15,.22,.12,.35,.15,.28,.12,.25,.30,.30];
const d_Sta05=[.08,.20,.48,.15,.12,.08,.20,.12,.10,.15,.15,.25,.25,.12,.08,.10,.18,.12,.48,.20,
.12,.08,.22,.15,.10,.08,.16,.12,.30,.15,.09,.12,.14,.10,.20,.12,.11,.08,.25,.15,
.08,.10,.15,.12,.12,.08,.18,.12,.10,.14,.14,.10,.09,.12,.20,.15,.12,.08,.45,.20,
.10,.08,.16,.12,.08,.10,.22,.15,.13,.10,.18,.12,.10,.08,.15,.12,.25,.15,.09,.12,
.12,.08,.20,.15,.14,.10,.10,.08,.18,.12,.40,.20,.12,.08,.16,.12,.09,.10,.22,.15,
.12,.08,.18,.12,.10,.08,.25,.15,.15,.10,.09,.12,.42,.20,.14,.10,.20,.12,.11,.08,
.16,.12,.28,.15,.10,.08,.15,.12,.12,.08,.10,.15,.08,.20,.30,.40,.25,.15,.12,.18,
.10,.14,.08,.12,.10,.18,.22,.15,.20,.12,.10,.15,.10,.08,.22,.15,.12,.10,.18,.12,
.09,.12,.25,.15,.14,.10,.20,.12,.10,.08,.16,.12,.12,.10,.30,.18,.15,.10,.10,.08,
.20,.12,.12,.08,.18,.12,.09,.12,.14,.10,.22,.15,.11,.08,.16,.12,.10,.08,.12,.10,.12];
const d_Cen05=[.05,.08,.12,.10,.08,.12,.15,.10,.10,.08,.06,.12,.18,.12,.09,.10,.13,.10,.07,.09,
.11,.14,.16,.12,.08,.10,.12,.16,.20,.14,.06,.08,.10,.12,.14,.10,.09,.12,.17,.12,
.07,.09,.11,.10,.08,.10,.13,.12,.10,.08,.09,.12,.14,.10,.07,.09,.11,.12,.16,.12,
.08,.10,.12,.10,.10,.14,.18,.12,.06,.09,.13,.12,.09,.12,.15,.12,.07,.09,.11,.12,
.14,.12,.08,.10,.12,.10,.10,.14,.16,.12,.07,.10,.13,.12,.09,.10,.11,.12,.15,.12,
.10,.12,.13,.10,.08,.12,.16,.12,.11,.09,.07,.10,.14,.12,.09,.10,.12,.14,.18,.12,
.08,.10,.11,.12,.13,.10,.07,.08,.10,.12,.12,.15,.10,.08,.12,.14,.10,.08,.12,.15,
.10,.08,.06,.09,.12,.10,.14,.16,.12,.10,.08,.11,.10,.08,.12,.14,.12,.07,.10,.15,
.09,.12,.13,.11,.10,.08,.08,.10,.12,.14,.16,.12,.09,.10,.11,.12,.07,.10,.14,.12,
.10,.12,.12,.10,.08,.10,.13,.11,.09,.10,.11,.12,.07,.09,.10,.12,.13,.10,.08,.09,.10];
const d_Sta075=[.06,.10,.12,.10,.09,.14,.18,.12,.10,.12,.25,.15,.08,.10,.14,.12,.11,.15,.20,.12,
.07,.10,.15,.20,.30,.18,.10,.12,.13,.10,.08,.12,.42,.20,.12,.10,.09,.12,.16,.12,
.11,.15,.22,.15,.08,.10,.13,.12,.10,.12,.12,.10,.18,.12,.11,.10,.15,.12,.10,.08,
.52,.25,.10,.12,.14,.10,.08,.12,.20,.15,.12,.10,.16,.12,.09,.12,.25,.15,.11,.10,
.13,.10,.08,.12,.18,.12,.10,.12,.15,.12,.12,.20,.28,.15,.09,.10,.14,.12,.11,.10,
.13,.10,.10,.12,.16,.12,.09,.10,.22,.15,.12,.10,.15,.12,.08,.10,.18,.12,.11,.10,
.14,.20,.35,.18,.10,.12,.13,.10,.09,.12,.10,.14,.12,.08,.10,.12,.15,.10,.08,.12,
.10,.08,.12,.10,.08,.12,.15,.30,.50,.42,.22,.15,.10,.12,.18,.12,.12,.30,.45,.20,
.14,.10,.10,.15,.20,.12,.12,.10,.16,.12,.09,.12,.18,.12,.13,.10,.25,.15,.10,.12,
.15,.12,.12,.20,.38,.18,.14,.10,.11,.12,.20,.15,.13,.10,.16,.12,.12,.20,.35,.45,.45];
const d_Cen075=[.04,.06,.08,.07,.06,.08,.11,.08,.05,.07,.09,.08,.07,.09,.13,.09,.06,.08,.10,.08,
.08,.06,.05,.08,.12,.09,.07,.08,.09,.07,.06,.08,.11,.08,.05,.07,.08,.09,.10,.08,
.06,.08,.09,.07,.07,.09,.12,.08,.05,.07,.08,.09,.10,.08,.06,.08,.07,.09,.12,.08,
.05,.07,.09,.08,.08,.10,.11,.08,.06,.08,.10,.08,.07,.09,.13,.09,.05,.07,.08,.09,
.09,.08,.06,.08,.11,.09,.07,.08,.10,.08,.05,.07,.08,.09,.12,.08,.06,.07,.09,.08,
.07,.09,.10,.08,.06,.08,.12,.09,.08,.07,.09,.08,.05,.07,.11,.09,.07,.08,.13,.09,
.06,.08,.09,.08,.08,.09,.10,.08,.06,.07,.08,.10,.06,.05,.08,.06,.05,.04,.06,.05,
.04,.06,.05,.04,.06,.05,.08,.10,.12,.28,.20,.10,.08,.07,.10,.12,.09,.06,.09,.13,
.07,.09,.11,.08,.06,.08,.09,.07,.10,.08,.06,.08,.12,.09,.06,.07,.08,.09,.10,.08,
.06,.08,.07,.09,.08,.07,.09,.08,.11,.08,.06,.07,.08,.08,.09,.07,.07,.06,.05,.05,.05];
const d_Sta1=[.08,.12,.14,.10,.10,.15,.20,.15,.12,.10,.16,.12,.09,.15,.22,.15,.13,.12,.18,.15,
.11,.12,.15,.20,.25,.15,.10,.12,.14,.12,.19,.15,.12,.10,.16,.12,.10,.15,.21,.15,
.40,.20,.13,.15,.17,.12,.11,.15,.15,.12,.12,.15,.18,.12,.10,.12,.16,.12,.14,.15,
.22,.15,.09,.12,.15,.12,.12,.15,.19,.15,.11,.15,.25,.18,.13,.12,.17,.15,.10,.12,
.14,.15,.20,.15,.12,.15,.16,.12,.09,.12,.18,.15,.13,.15,.28,.18,.11,.12,.15,.14,
.14,.18,.20,.15,.11,.12,.16,.15,.13,.15,.24,.18,.10,.12,.17,.15,.12,.15,.15,.14,
.30,.20,.11,.12,.16,.15,.13,.15,.18,.15,.15,.12,.18,.10,.38,.42,.30,.20,.15,.12,
.10,.18,.12,.08,.10,.14,.20,.16,.25,.12,.10,.16,.14,.12,.20,.16,.14,.18,.12,.10,
.19,.15,.14,.12,.16,.14,.25,.18,.13,.15,.42,.25,.18,.15,.15,.12,.20,.15,.38,.20,
.14,.16,.22,.15,.12,.14,.18,.15,.15,.14,.20,.16,.16,.14,.12,.15,.20,.15,.18,.14,.20];
const d_Cen1=[.05,.08,.10,.08,.07,.10,.13,.10,.09,.08,.06,.10,.15,.10,.08,.10,.12,.10,.10,.08,
.14,.10,.07,.09,.11,.10,.09,.11,.16,.12,.08,.10,.12,.10,.10,.08,.06,.10,.14,.10,
.09,.10,.11,.10,.08,.12,.13,.10,.07,.09,.10,.12,.07,.09,.11,.10,.09,.12,.15,.10,
.10,.12,.08,.10,.11,.10,.07,.10,.12,.14,.14,.10,.10,.08,.07,.10,.12,.10,.16,.12,
.09,.10,.11,.10,.08,.10,.13,.10,.10,.08,.07,.10,.12,.10,.09,.10,.15,.12,.08,.10,
.11,.10,.09,.10,.13,.12,.08,.10,.11,.10,.14,.10,.07,.09,.12,.10,.10,.08,.16,.12,
.09,.10,.11,.10,.08,.10,.13,.10,.10,.08,.10,.08,.12,.10,.08,.10,.12,.15,.20,.18,
.12,.10,.08,.06,.08,.10,.12,.10,.15,.18,.10,.10,.12,.09,.11,.14,.10,.10,.08,.11,
.13,.10,.11,.10,.09,.11,.10,.12,.15,.10,.09,.12,.14,.10,.08,.10,.11,.12,.12,.10,
.15,.12,.08,.10,.11,.10,.13,.12,.09,.10,.10,.12,.12,.10,.08,.10,.09,.10,.10,.08,.08];
const d_Sta15=[.04,.06,.09,.07,.06,.08,.12,.08,.05,.07,.10,.08,.08,.10,.14,.10,.06,.08,.11,.08,
.07,.08,.09,.08,.13,.10,.05,.07,.10,.08,.08,.10,.12,.09,.06,.08,.09,.10,.15,.10,
.07,.08,.10,.08,.08,.10,.11,.09,.06,.08,.09,.08,.12,.10,.05,.07,.13,.10,.09,.08,
.09,.08,.06,.08,.12,.10,.08,.09,.10,.10,.05,.07,.13,.10,.07,.08,.11,.09,.09,.10,
.14,.10,.06,.08,.10,.08,.08,.10,.12,.10,.07,.09,.09,.08,.15,.10,.06,.08,.11,.09,
.08,.10,.10,.08,.07,.08,.13,.10,.09,.10,.11,.08,.06,.08,.12,.10,.09,.10,.14,.10,
.08,.10,.11,.09,.06,.08,.09,.10,.12,.10,.06,.08,.05,.07,.06,.05,.08,.06,.05,.07,
.06,.05,.20,.32,.35,.22,.08,.06,.05,.07,.06,.09,.08,.06,.10,.11,.08,.08,.07,.06,
.10,.08,.06,.08,.12,.10,.08,.09,.09,.08,.05,.07,.11,.09,.07,.08,.10,.08,.08,.07,
.06,.08,.12,.10,.09,.08,.07,.09,.10,.08,.08,.09,.06,.08,.11,.09,.07,.06,.05,.05,.05];
const d_Cen15=[.03,.05,.06,.05,.04,.06,.08,.06,.05,.06,.07,.05,.04,.06,.09,.07,.05,.06,.06,.05,
.08,.06,.04,.05,.06,.07,.05,.06,.07,.05,.04,.05,.06,.07,.08,.06,.05,.06,.07,.05,
.05,.06,.04,.05,.06,.07,.08,.06,.07,.05,.05,.06,.08,.06,.04,.05,.06,.07,.08,.06,
.05,.06,.04,.05,.06,.07,.09,.07,.04,.05,.06,.07,.05,.06,.07,.06,.05,.06,.08,.06,
.06,.05,.05,.06,.08,.07,.04,.05,.06,.07,.10,.07,.04,.05,.06,.07,.08,.06,.05,.06,
.06,.05,.04,.05,.08,.07,.05,.06,.07,.06,.09,.07,.04,.05,.06,.07,.08,.06,.05,.06,
.08,.06,.05,.06,.06,.07,.08,.06,.05,.06,.05,.04,.06,.04,.05,.03,.05,.04,.06,.04,
.03,.05,.04,.06,.05,.04,.06,.05,.04,.06,.05,.06,.05,.04,.06,.07,.06,.05,.06,.08,
.06,.04,.05,.06,.07,.05,.05,.06,.07,.06,.04,.05,.06,.07,.08,.06,.05,.06,.07,.05,
.04,.05,.06,.07,.05,.06,.06,.07,.05,.05,.06,.07,.04,.05,.06,.06,.05,.05,.04,.04,.04];
const d_Sta2=[.05,.08,.10,.08,.08,.12,.28,.15,.06,.08,.12,.10,.09,.12,.15,.12,.07,.10,.11,.10,
.08,.10,.14,.12,.06,.08,.10,.12,.09,.10,.13,.10,.07,.09,.12,.10,.05,.08,.10,.09,
.08,.10,.14,.12,.06,.08,.11,.10,.09,.10,.07,.09,.12,.10,.08,.10,.14,.12,.09,.10,
.07,.10,.12,.10,.09,.10,.14,.12,.06,.08,.11,.10,.30,.15,.09,.10,.06,.08,.11,.10,
.08,.09,.14,.12,.07,.09,.10,.10,.13,.10,.06,.08,.12,.10,.08,.09,.10,.10,.08,.09,
.09,.10,.12,.10,.07,.09,.15,.12,.08,.09,.11,.10,.06,.08,.13,.12,.10,.09,.08,.10,
.12,.10,.07,.09,.14,.12,.09,.10,.11,.10,.12,.18,.20,.15,.10,.08,.06,.10,.08,.06,
.08,.10,.06,.08,.10,.12,.08,.06,.10,.08,.06,.08,.10,.07,.09,.13,.10,.09,.10,.08,
.28,.15,.08,.10,.11,.09,.06,.08,.12,.10,.09,.10,.10,.08,.07,.09,.14,.10,.08,.09,
.11,.10,.06,.08,.12,.10,.09,.10,.10,.08,.13,.10,.08,.09,.30,.15,.09,.10,.10,.09,.10];
const d_Cen2=[.03,.05,.06,.05,.04,.06,.07,.06,.05,.06,.08,.06,.04,.05,.06,.05,.09,.07,.05,.06,
.07,.06,.04,.05,.06,.05,.07,.06,.05,.06,.08,.06,.03,.05,.06,.05,.05,.06,.08,.06,
.05,.06,.07,.06,.04,.05,.06,.05,.07,.06,.05,.06,.08,.06,.04,.05,.07,.06,.05,.06,
.04,.05,.06,.05,.06,.07,.09,.06,.05,.06,.07,.06,.04,.05,.06,.05,.08,.06,.05,.06,
.05,.06,.07,.06,.04,.05,.06,.05,.08,.06,.05,.06,.06,.05,.05,.06,.07,.06,.05,.06,
.06,.05,.04,.05,.07,.06,.05,.06,.08,.06,.04,.05,.06,.07,.07,.06,.05,.06,.09,.06,
.04,.05,.06,.05,.05,.06,.07,.06,.05,.06,.10,.15,.14,.10,.08,.06,.05,.06,.05,.04,
.05,.06,.04,.05,.06,.05,.04,.06,.05,.04,.05,.06,.05,.04,.05,.07,.06,.05,.06,.08,
.04,.05,.06,.05,.07,.06,.05,.06,.08,.06,.05,.06,.04,.05,.06,.06,.07,.06,.05,.06,
.04,.05,.05,.06,.07,.06,.05,.06,.04,.05,.06,.06,.05,.06,.07,.06,.04,.05,.03,.04,.03];

// ---------- styles ----------
const seriesColors = ["#141414","#19e3ec","#10d4dc","#f03cf0","#e010e0","#2a3cff","#1414c8","#3ad23a","#16b416","#f03030","#d81414"];
const seriesDash = [null,"2.2,1.3",null,"2.2,1.3",null,"2.2,1.3",null,"2.2,1.3",null,"2.2,1.3",null];
const seriesWidth = [0.95,0.75,0.8,0.75,0.8,0.75,0.8,0.75,0.8,0.75,0.8];

const panels = [
 {series:[a_SFLC,a_Sta05,a_Cen05,a_Sta075,a_Cen075,a_Sta1,a_Cen1,a_Sta15,a_Cen15,a_Sta2,a_Cen2], yMax:1.8, yTicks:yTicksA,
  main:{left:19.5,right:418.5,top:5,bottom:131}, inset:{left:189,right:417,top:6,bottom:43,xTicks:insetXTicksABC,yTicks:insetYTicksA},
  box:zoomWindowA, conn:connectorA, ylab:[5,72], xlabY:144, capY:157.5,
  leg:{rows:[10,15.3,20.7,26], lines:[[24,33],[77,86],[128,137]], text:[36,88,139]}},
 {series:[b_SFLC,b_Sta05,b_Cen05,b_Sta075,b_Cen075,b_Sta1,b_Cen1,b_Sta15,b_Cen15,b_Sta2,b_Cen2], yMax:2.4, yTicks:yTicksB,
  main:{left:19.3,right:419.3,top:174,bottom:301}, inset:{left:188,right:419,top:177,bottom:213,xTicks:insetXTicksABC,yTicks:insetYTicksB},
  box:zoomWindowB, conn:connectorB, ylab:[5,241], xlabY:314, capY:327.5,
  leg:{rows:[178.3,184,189.7,195], lines:[[28,36],[79,87],[131,139]], text:[38,89,141]}},
 {series:[c_SFLC,c_Sta05,c_Cen05,c_Sta075,c_Cen075,c_Sta1,c_Cen1,c_Sta15,c_Cen15,c_Sta2,c_Cen2], yMax:0.8, yTicks:yTicksC,
  main:{left:19.3,right:419.3,top:344.7,bottom:471.3}, inset:{left:189.3,right:419.3,top:348,bottom:384.3,xTicks:insetXTicksABC,yTicks:insetYTicksC},
  box:zoomWindowC, conn:connectorC, ylab:[5,414], xlabY:484.7, capY:498,
  leg:{rows:[349.3,355,360.3,365.7], lines:[[25,35],[77,87],[129,139]], text:[37,88,140]}},
 {series:[d_SFLC,d_Sta05,d_Cen05,d_Sta075,d_Cen075,d_Sta1,d_Cen1,d_Sta15,d_Cen15,d_Sta2,d_Cen2], yMax:1.2, yTicks:yTicksD,
  main:{left:18.5,right:418.5,top:513.7,bottom:641.7}, inset:{left:188.3,right:418.3,top:518.3,bottom:554,xTicks:insetXTicksD,yTicks:insetYTicksD},
  box:zoomWindowD, conn:connectorD, ylab:[4,584], xlabY:654.3, capY:668.5,
  leg:{rows:[518.7,523.7,529,534.7], lines:[[24,35],[76,86],[128,138]], text:[36,88,140]}}
];

const fig = document.getElementById("fig");
const W = 428;
const problems = [];
const overlays = [];

panels.forEach((P, pi) => {
  const times = sampleTimes;
  const rowsBy = P.series.map((vals, k) => {
    if (vals.length !== times.length) problems.push(`panel ${pi} series ${k}: ${vals.length} vs ${times.length}`);
    return vals.map((v, i) => ({t: times[i], v})).filter(d => d.t !== undefined);
  });
  // main
  const mt = 10, mb = 16;
  const M = P.main;
  const marks = [
    Plot.gridX(xTicksMain, {stroke: "#e3e3e3", strokeOpacity: 1, strokeWidth: 0.5}),
    Plot.gridY(P.yTicks, {stroke: "#e3e3e3", strokeOpacity: 1, strokeWidth: 0.5})
  ];
  rowsBy.forEach((rows, k) => marks.push(Plot.line(rows, {x: "t", y: "v", stroke: seriesColors[k], strokeWidth: seriesWidth[k], strokeDasharray: seriesDash[k] || undefined, strokeLinejoin: "miter"})));
  marks.push(Plot.rect([P.box], {x1: d => d[0], x2: d => d[1], y1: d => d[2], y2: d => d[3], fill: "none", stroke: "#2a2a2a", strokeWidth: 0.8}));
  marks.push(Plot.ruleX([0], {stroke: "#444", strokeWidth: 0.6}));
  marks.push(Plot.ruleY([0], {stroke: "#444", strokeWidth: 0.6}));
  marks.push(Plot.axisX(xTicksMain, {tickSize: 0, tickPadding: 3, fontSize: 5.2, fill: "#333", tickFormat: d => String(d), label: null}));
  marks.push(Plot.axisY(P.yTicks, {tickSize: 0, tickPadding: 3, fontSize: 5.2, fill: "#333", tickFormat: d => String(d), label: null}));
  const mainSvg = Plot.plot({
    width: W, height: (M.bottom - M.top) + mt + mb,
    marginLeft: M.left, marginRight: W - M.right, marginTop: mt, marginBottom: mb,
    x: {domain: [0, 100], label: null}, y: {domain: [0, P.yMax], label: null},
    style: {background: "transparent", fontFamily: "'Liberation Sans', Arial, sans-serif", overflow: "visible"},
    marks
  });
  mainSvg.style.left = "0px";
  mainSvg.style.top = (M.top - mt) + "px";
  fig.appendChild(mainSvg);

  // inset
  const I = P.inset;
  const iml = 12, imr = 2, imt = 2, imb = 10;
  const imarks = [
    Plot.frame({fill: "#e3e3e3", stroke: null}),
    Plot.gridX(I.xTicks, {stroke: "#f4f4f4", strokeOpacity: 1, strokeWidth: 0.5}),
    Plot.gridY(I.yTicks, {stroke: "#f4f4f4", strokeOpacity: 1, strokeWidth: 0.5})
  ];
  rowsBy.forEach((rows, k) => imarks.push(Plot.line(rows.filter(d => d.t >= P.box[0] && d.t <= P.box[1]), {x: "t", y: "v", stroke: seriesColors[k], strokeWidth: seriesWidth[k] * 0.9, strokeDasharray: seriesDash[k] || undefined, clip: true})));
  imarks.push(Plot.frame({stroke: "#222", strokeWidth: 0.8}));
  imarks.push(Plot.axisX(I.xTicks, {tickSize: 0, tickPadding: 2.5, fontSize: 4.8, fill: "#333", tickFormat: d => String(d), label: null}));
  imarks.push(Plot.axisY(I.yTicks, {tickSize: 0, tickPadding: 2.5, fontSize: 4.8, fill: "#333", tickFormat: d => String(d), label: null}));
  const insetSvg = Plot.plot({
    width: (I.right - I.left) + iml + imr, height: (I.bottom - I.top) + imt + imb,
    marginLeft: iml, marginRight: imr, marginTop: imt, marginBottom: imb,
    x: {domain: [P.box[0], P.box[1]], label: null}, y: {domain: [P.box[2], P.box[3]], label: null},
    style: {background: "transparent", fontFamily: "'Liberation Sans', Arial, sans-serif", overflow: "visible"},
    marks: imarks
  });
  insetSvg.style.left = (I.left - iml) + "px";
  insetSvg.style.top = (I.top - imt) + "px";
  fig.appendChild(insetSvg);

  const ix = insetSvg.scale("x").apply(P.conn[0]) + (I.left - iml);
  const iy = insetSvg.scale("y").apply(P.box[2]) + (I.top - imt);
  const mx = mainSvg.scale("x").apply(P.conn[1]);
  const my = mainSvg.scale("y").apply(P.box[3]) + (M.top - mt);
  overlays.push({P, pi, conn: [ix, iy, mx, my]});
});

// overlay: connectors, legends, labels, captions
const ov = d3.select(fig).append("svg").attr("width", W).attr("height", 685).style("left", "0px").style("top", "0px");
overlays.forEach(({P, pi, conn}) => {
  ov.append("line").attr("x1", conn[0]).attr("y1", conn[1]).attr("x2", conn[2]).attr("y2", conn[3]).attr("stroke", "#333").attr("stroke-width", 0.6);
  seriesNames.forEach((name, k) => {
    const col = Math.floor(k / 4), row = k % 4;
    const y = P.leg.rows[row];
    const [x1, x2] = P.leg.lines[col];
    ov.append("line").attr("x1", x1).attr("x2", x2).attr("y1", y).attr("y2", y)
      .attr("stroke", seriesColors[k]).attr("stroke-width", k === 0 ? 1.1 : 0.9)
      .attr("stroke-dasharray", seriesDash[k] || null);
    ov.append("text").attr("x", P.leg.text[col]).attr("y", y + 1.5).text(name)
      .style("font-family", "'Liberation Sans', Arial, sans-serif").style("font-size", "4.4px").attr("fill", "#222");
  });
  ov.append("text").attr("transform", `translate(${P.ylab[0] + 2},${P.ylab[1]}) rotate(-90)`).attr("text-anchor", "middle")
    .text(yAxisLabels[pi]).style("font-family", "'Liberation Serif', 'Times New Roman', serif").style("font-size", "6px").attr("fill", "#333");
  ov.append("text").attr("x", (P.main.left + P.main.right) / 2).attr("y", P.xlabY).attr("text-anchor", "middle")
    .text(xAxisLabel).style("font-family", "'Liberation Serif', 'Times New Roman', serif").style("font-size", "6px").attr("fill", "#333");
  const t = ov.append("text").attr("x", 212).attr("y", P.capY).attr("text-anchor", "middle")
    .style("font-family", "'Liberation Serif', 'Times New Roman', serif").style("font-size", "7.6px").attr("fill", "#111");
  t.append("tspan").text(captionPrefix[pi] + " ");
  t.append("tspan").style("font-style", "italic").text("σ");
  t.append("tspan").attr("dy", 1.6).style("font-size", "5.2px").style("font-style", "italic").text("N");
  t.append("tspan").attr("dy", -1.6).text(" = " + captionSigma[pi]);
});
ov.append("text").attr("x", 0).attr("y", 684.5).text(figureCaption)
  .style("font-family", "'Liberation Serif', 'Times New Roman', serif").style("font-size", "9px").attr("fill", "#111");

if (problems.length) throw new Error(problems.join("; "));
</script></body></html>
